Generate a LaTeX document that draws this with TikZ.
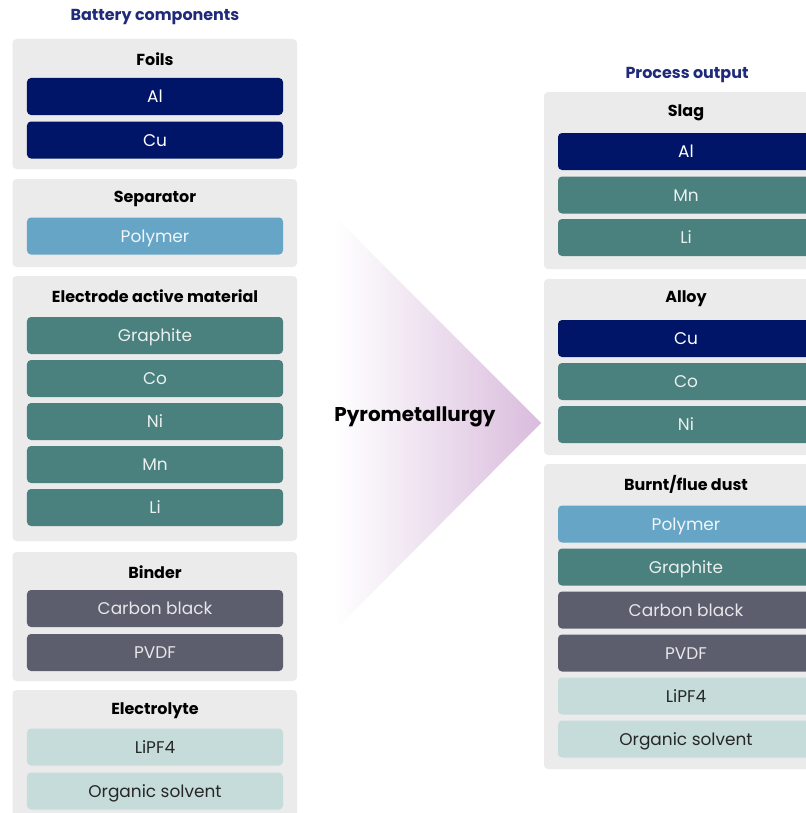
\documentclass[tikz,border=0pt]{standalone}
\usepackage{fontspec}
\setmainfont{Poppins}

\definecolor{headblue}{HTML}{1F2A7A}
\definecolor{panelgray}{HTML}{EBEBEB}
\definecolor{foilnavy}{HTML}{001468}
\definecolor{activeteal}{HTML}{4A807D}
\definecolor{sepblue}{HTML}{66A5C5}
\definecolor{binderslate}{HTML}{5C5E6E}
\definecolor{elecpale}{HTML}{C6DCDB}
\definecolor{arrowpurple}{HTML}{D9BCDD}

\begin{document}
\begin{tikzpicture}[x=1bp, y=-1bp,
    panel/.style={fill=panelgray, rounded corners=4bp},
    bar/.style={rounded corners=4bp, minimum width=256bp, minimum height=37bp, inner sep=0pt, text height=14bp, text depth=2bp, font=\fontsize{17}{20}\selectfont},
    navybar/.style={bar, fill=foilnavy, text=white},
    tealbar/.style={bar, fill=activeteal, text=white!88!activeteal},
    sepbar/.style={bar, fill=sepblue, text=white!90!sepblue},
    slatebar/.style={bar, fill=binderslate, text=white!85!binderslate},
    palebar/.style={bar, fill=elecpale, text=black!85},
    grouptitle/.style={font=\bfseries\fontsize{16}{19}\selectfont},
    heading/.style={font=\bfseries\fontsize{16}{19}\selectfont, text=headblue}]
    \clip (0,0) rectangle (806,813);
    \fill[white] (0,0) rectangle (806,813);

    % battery components
    \node[heading] (bathead) at (155,17) {Battery components};
    \fill[panel] (12.5,39) rectangle (297,169);
    \node[grouptitle] (foils) at (155,59) {Foils};
    \node[navybar] (inal) at (155,96.5) {Al};
    \node[navybar] (incu) at (155,140) {Cu};
    \fill[panel] (12.5,179) rectangle (297,267);
    \node[grouptitle] (separator) at (155,199) {Separator};
    \node[sepbar] (inpoly) at (155,236) {Polymer};
    \fill[panel] (12.5,276) rectangle (297,541);
    \node[grouptitle] (active) at (155,296) {Electrode active material};
    \node[tealbar] (ingraph) at (155,335.5) {Graphite};
    \node[tealbar] (inco) at (155,378.5) {Co};
    \node[tealbar] (inni) at (155,421.5) {Ni};
    \node[tealbar] (inmn) at (155,464.5) {Mn};
    \node[tealbar] (inli) at (155,507.5) {Li};
    \fill[panel] (12.5,552) rectangle (297,681);
    \node[grouptitle] (binder) at (155,572) {Binder};
    \node[slatebar] (incb) at (155,608.5) {Carbon black};
    \node[slatebar] (inpvdf) at (155,652.5) {PVDF};
    \fill[panel] (12.5,690) rectangle (297,830);
    \node[grouptitle] (electrolyte) at (155,711) {Electrolyte};
    \node[palebar] (inlipf) at (155,747) {LiPF4};
    \node[palebar] (insolv) at (155,791) {Organic solvent};

    % process arrow
    \shade[left color=white, right color=arrowpurple] (335,217) -- (541,423) -- (335,630) -- cycle;
    \node[font=\bfseries\fontsize{20}{24}\selectfont] (pyro) at (415,417) {Pyrometallurgy};

    % process output
    \node[heading] (outhead) at (687,75) {Process output};
    \fill[panel] (544,92) rectangle (830,269);
    \node[grouptitle] (slag) at (686,113) {Slag};
    \node[navybar] (outal) at (686,151.5) {Al};
    \node[tealbar] (outmn) at (686,195) {Mn};
    \node[tealbar] (outli) at (686,237.5) {Li};
    \fill[panel] (544,279) rectangle (830,455);
    \node[grouptitle] (alloy) at (686,299) {Alloy};
    \node[navybar] (outcu) at (686,338.5) {Cu};
    \node[tealbar] (outco) at (686,381.5) {Co};
    \node[tealbar] (outni) at (686,424.5) {Ni};
    \fill[panel] (544,464) rectangle (830,769);
    \node[grouptitle] (dust) at (686,484) {Burnt/flue dust};
    \node[sepbar] (outpoly) at (686,524) {Polymer};
    \node[tealbar] (outgraph) at (686,567) {Graphite};
    \node[slatebar] (outcb) at (686,610) {Carbon black};
    \node[slatebar] (outpvdf) at (686,653) {PVDF};
    \node[palebar] (outlipf) at (686,696) {LiPF4};
    \node[palebar] (outsolv) at (686,739) {Organic solvent};
\end{tikzpicture}
\end{document}
